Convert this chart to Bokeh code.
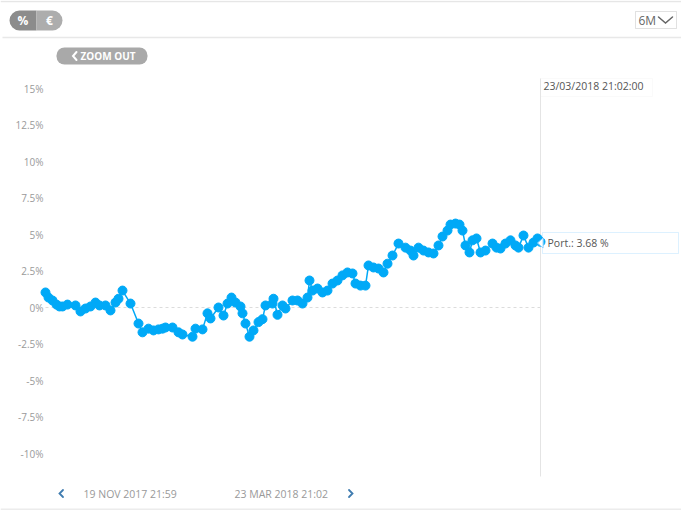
from bokeh.plotting import figure
from bokeh.models import Range1d, FixedTicker, CustomJSTickFormatter, Label, BoxAnnotation
from bokeh.embed import file_html
from bokeh.resources import INLINE

# ---- data (days since 19 Nov 2017 21:59, portfolio return in %) ----
days = [0.25, 1.0, 2.0, 3.0, 3.75, 4.5, 5.75, 7.75, 9.0, 10.25, 11.5, 12.75, 13.75, 15.25,
        16.5, 17.75, 18.5, 19.5, 21.5, 23.5, 24.5, 26.0, 27.25, 28.5, 29.5, 30.25, 32.0,
        33.5, 34.5, 37.0, 37.75, 39.5, 40.75, 41.5, 43.5, 44.75, 45.75, 46.75, 47.75, 49.0,
        49.5, 50.25, 51.25, 52.25, 53.5, 54.5, 55.25, 57.0, 57.25, 58.25, 59.5, 60.25, 62.0,
        63.25, 64.5, 65.75, 66.25, 67.0, 68.25, 69.5, 70.75, 72.0, 73.25, 74.5, 75.75, 77.0,
        77.75, 79.0, 80.25, 81.0, 82.25, 83.5, 84.75, 85.75, 87.0, 88.5, 90.25, 91.5, 92.25,
        93.5, 94.75, 96.0, 97.25, 98.5, 99.5, 100.75, 101.5, 102.75, 103.75, 104.5, 105.25,
        106.25, 107.0, 108.0, 109.0, 110.25, 112.0, 113.0, 114.0, 115.25, 116.5, 117.75,
        118.5, 119.75, 121.0, 122.25, 123.25, 124.0]
port_pct = [1.03, 0.68, 0.48, 0.20, 0.07, 0.07, 0.20, 0.14, -0.27, -0.07, 0.07, 0.34, 0.14, 0.14,
            -0.20, 0.34, 0.60, 1.16, 0.27, -1.10, -1.70, -1.45, -1.57, -1.50, -1.45, -1.37, -1.37,
            -1.70, -1.85, -2.00, -1.45, -1.50, -0.40, -0.75, 0.00, -0.55, 0.27, 0.68, 0.34, 0.07,
            -0.40, -1.10, -2.00, -1.57, -1.00, -0.80, 0.14, 0.27, 0.60, -0.50, 0.14, -0.07, 0.48,
            0.48, 0.27, 0.68, 1.85, 1.16, 1.30, 1.03, 1.16, 1.64, 1.85, 2.20, 2.40, 2.33,
            1.64, 1.50, 1.50, 2.88, 2.74, 2.67, 2.40, 3.00, 3.56, 4.38, 4.10, 3.90, 3.56,
            4.10, 3.90, 3.77, 3.70, 4.25, 4.86, 5.27, 5.68, 5.75, 5.68, 5.27, 4.25,
            3.77, 4.60, 4.73, 3.77, 3.90, 4.38, 4.10, 4.04, 4.38, 4.60, 4.25,
            4.10, 4.93, 4.10, 4.45, 4.73, 4.50]
y_ticks = [15, 12.5, 10, 7.5, 5, 2.5, 0, -2.5, -5, -7.5, -10]
toggle_labels = ["%", "€"]
range_button = "6M"
zoom_label = "ZOOM OUT"
cursor_label = "23/03/2018 21:02:00"
tooltip_label = "Port.: 3.68 %"
start_label = "19 NOV 2017 21:59"
end_label = "23 MAR 2018 21:02"

FONT = "Open Sans"
LINE_COLOR = "#00a9f7"

# page-pixel -> data helpers for the UI decorations
def dx(px):
    return (px - 44) / 4.0

def dy(py):
    return (307 - py) / 14.6

W, H = 681, 512
p = figure(width=W, height=H, output_backend="svg", toolbar_location=None,
           x_axis_type=None, x_range=Range1d(dx(0), dx(W)), y_range=Range1d(dy(H), dy(0)),
           min_border_left=0, min_border_right=0, min_border_top=0, min_border_bottom=0)
p.outline_line_color = None
p.ygrid.grid_line_color = None
p.background_fill_color = "white"
p.border_fill_color = "white"

ax = p.yaxis[0]
ax.ticker = FixedTicker(ticks=y_ticks)
ax.formatter = CustomJSTickFormatter(code="return tick + '%';")
ax.axis_line_color = None
ax.major_tick_line_color = None
ax.minor_tick_line_color = None
ax.major_tick_out = 0
ax.major_tick_in = 0
ax.major_label_standoff = -43
ax.major_label_text_color = "#9a9a9a"
ax.major_label_text_font = FONT
ax.major_label_text_font_size = "10px"

def box(l, r, t, b, fill, line=None, radius=0, lw=1):
    p.add_layout(BoxAnnotation(left=dx(l), right=dx(r), top=dy(t), bottom=dy(b),
                               fill_color=fill, fill_alpha=1, line_color=line, line_width=lw,
                               border_radius=radius, level="underlay"))

def label(x, y, text, size="10px", color="#555555", align="left", bold=False):
    p.add_layout(Label(x=dx(x), y=dy(y), text=text, text_font=FONT, text_font_size=size,
                       text_font_style="bold" if bold else "normal", text_color=color,
                       text_align=align, text_baseline="middle"))

def chevron(xs, ys, color, width):
    p.line(x=[dx(v) for v in xs], y=[dy(v) for v in ys], line_color=color,
           line_width=width, line_cap="round", line_join="miter")

# frame lines of the widget
box(0, 681, 0.3, 1.8, "#e6e6e6")
box(2, 681, 36.2, 37.8, "#e8e8e8")
box(0, 681, 508, 509.6, "#ececec")

# % / € toggle
box(9, 36, 10, 30, "#8c8c8c", radius=(10, 0, 0, 10))
box(36, 62, 10, 30, "#adadad", radius=(0, 10, 10, 0))
for lab, cx in zip(toggle_labels, [22.5, 49]):
    label(cx, 20, lab, size="12px", color="white", align="center", bold=True)

# 6M dropdown
box(635, 676, 11, 28, "white", line="#9a9a9a")
label(638, 19.5, range_button, size="12px", color="#666666")
chevron([658, 665, 672], [16.5, 22.5, 16.5], "#666666", 1.5)

# ZOOM OUT pill
box(56, 147, 47, 64, "#a9a9a9", radius=8)
chevron([76, 72.5, 76], [51.5, 55.5, 59.5], "white", 2)
label(80, 55.5, zoom_label, size="10px", color="white", align="left", bold=True)

# zero reference line
p.segment(x0=[days[0]], y0=[0], x1=[days[-1]], y1=[0], line_color="#dcdcdc",
          line_width=1, line_dash="3 3")

# cursor line and date box
p.segment(x0=[days[-1]], y0=[dy(78)], x1=[days[-1]], y1=[dy(476)], line_color="#e4e4e4",
          line_width=1)
box(540, 652, 78, 96, "white", line="#f0f0f0")
label(543, 85, cursor_label, size="10.5px", color="#555555")

# the series
p.line(days, port_pct, line_color=LINE_COLOR, line_width=1.5)
p.scatter(days, port_pct, size=9, fill_color=LINE_COLOR, line_color=LINE_COLOR)

# tooltip
box(542, 678, 232, 253, "white", line="#8ed2ff")
p.patch(x=[dx(537), dx(542.6), dx(542.6)], y=[dy(242.5), dy(237.5), dy(247.5)],
        fill_color="white", line_color="#8ed2ff", line_width=1)
label(547, 242.5, tooltip_label, size="10.5px", color="#555555")

# bottom navigation
chevron([62.5, 59, 62.5], [489.5, 493, 496.5], "#3f7cb0", 1.8)
label(83, 493, start_label, size="10.5px", color="#999999")
label(234, 493, end_label, size="10.5px", color="#999999")
chevron([348.5, 352, 348.5], [489.5, 493, 496.5], "#3f7cb0", 1.8)

open("out.html", "w").write(file_html(p, INLINE))
